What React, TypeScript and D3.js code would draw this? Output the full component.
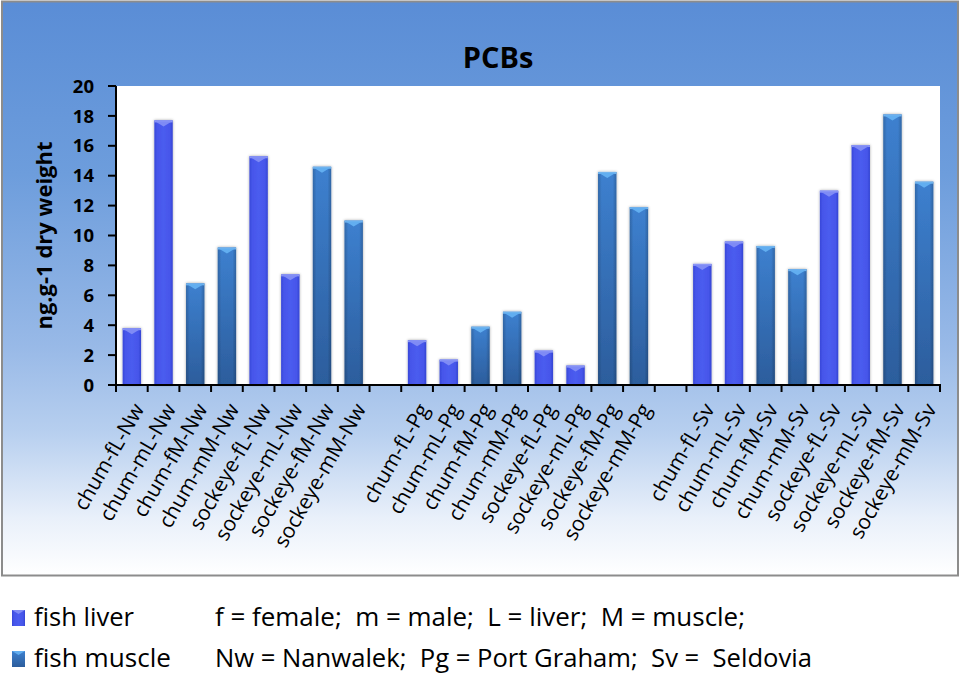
import React from "react";
import * as d3 from "d3";

const categories = [
  "chum-fL-Nw", "chum-mL-Nw", "chum-fM-Nw", "chum-mM-Nw",
  "sockeye-fL-Nw", "sockeye-mL-Nw", "sockeye-fM-Nw", "sockeye-mM-Nw",
  "",
  "chum-fL-Pg", "chum-mL-Pg", "chum-fM-Pg", "chum-mM-Pg",
  "sockeye-fL-Pg", "sockeye-mL-Pg", "sockeye-fM-Pg", "sockeye-mM-Pg",
  " ",
  "chum-fL-Sv", "chum-mL-Sv", "chum-fM-Sv", "chum-mM-Sv",
  "sockeye-fL-Sv", "sockeye-mL-Sv", "sockeye-fM-Sv", "sockeye-mM-Sv",
];
const values: (number | null)[] = [
  3.8, 17.7, 6.8, 9.2, 15.3, 7.4, 14.6, 11.0,
  null,
  3.0, 1.7, 3.9, 4.9, 2.3, 1.3, 14.25, 11.9,
  null,
  8.1, 9.6, 9.3, 7.75, 13.0, 16.05, 18.1, 13.6,
];
// series of each category: "liver" or "muscle"
const tissue = categories.map((c) => (c.includes("L-") ? "liver" : c.includes("M-") ? "muscle" : ""));
const yTicks = [0, 2, 4, 6, 8, 10, 12, 14, 16, 18, 20];
const seriesNames = ["fish liver", "fish muscle"];
const title = "PCBs";
const yTitle = "ng.g-1 dry weight";
const notes = [
  "f = female;  m = male;  L = liver;  M = muscle;",
  "Nw = Nanwalek;  Pg = Port Graham;  Sv =  Seldovia",
];

const W = 961;
const H = 678;
const left = 116;
const right = 940;
const top = 86;
const bottom = 385;

export default function App() {
  const x = d3
    .scaleBand<string>()
    .domain(categories)
    .range([left, right])
    .paddingInner(0.42)
    .paddingOuter(0.21);
  const y = d3.scaleLinear().domain([0, 20]).range([bottom, top]);
  const step = x.step();
  const bw = x.bandwidth();
  const slotEdges = d3.range(categories.length + 1).map((i) => left + i * step);

  const font = "'Open Sans', 'DejaVu Sans', sans-serif";
  const legendLen = [100, 137];
  const notesLen = [530, 597];
  const rowY = [626, 667];

  return (
    <svg
      width={W}
      height={H}
      style={{ position: "absolute", left: 0, top: 0, display: "block" }}
      fontFamily={font}
    >
      <defs>
        <linearGradient id="bg" x1="0" y1="0" x2="0" y2="1">
          <stop offset="0" stopColor="#5a8dd6" />
          <stop offset="0.3" stopColor="#6d9ddc" />
          <stop offset="0.6" stopColor="#98b9e7" />
          <stop offset="0.75" stopColor="#b7cfef" />
          <stop offset="0.9" stopColor="#e9f0fa" />
          <stop offset="1" stopColor="#ffffff" />
        </linearGradient>
        <linearGradient id="liver" x1="0" y1="0" x2="1" y2="0">
          <stop offset="0" stopColor="#3747d8" />
          <stop offset="0.15" stopColor="#4656ea" />
          <stop offset="0.5" stopColor="#4b5cef" />
          <stop offset="0.85" stopColor="#4656ea" />
          <stop offset="1" stopColor="#3444d2" />
        </linearGradient>
        <linearGradient id="muscleV" x1="0" y1="0" x2="0" y2="1">
          <stop offset="0" stopColor="#3d80cf" />
          <stop offset="1" stopColor="#2c5d9c" />
        </linearGradient>
        <linearGradient id="shadeH" x1="0" y1="0" x2="1" y2="0">
          <stop offset="0" stopColor="#000" stopOpacity="0.18" />
          <stop offset="0.2" stopColor="#000" stopOpacity="0" />
          <stop offset="0.8" stopColor="#000" stopOpacity="0" />
          <stop offset="1" stopColor="#000" stopOpacity="0.2" />
        </linearGradient>
        <filter id="sh" x="-30%" y="-10%" width="160%" height="120%">
          <feGaussianBlur in="SourceAlpha" stdDeviation="1.5" />
          <feOffset dx="0" dy="0" result="b" />
          <feComponentTransfer>
            <feFuncA type="linear" slope="0.35" />
          </feComponentTransfer>
          <feMerge>
            <feMergeNode />
            <feMergeNode in="SourceGraphic" />
          </feMerge>
        </filter>
      </defs>

      <rect x={0} y={0} width={W} height={H} fill="#fff" />
      <rect x={2} y={1.5} width={956} height={574} fill="url(#bg)" stroke="#8c8c8c" strokeWidth={2} />

      <text x={498} y={68} textAnchor="middle" fontSize={29} fontWeight="bold" fill="#000">
        {title}
      </text>

      <rect x={left} y={top} width={right - left} height={bottom - top} fill="#fff" />

      {categories.map((c, i) => {
        const v = values[i];
        if (v == null) return null;
        const x0 = x(c)!;
        const y0 = y(v);
        const h = bottom - y0;
        const isLiver = tissue[i] === "liver";
        const cap = 6;
        return (
          <g key={i} filter="url(#sh)">
            <rect x={x0} y={y0} width={bw} height={h} fill={isLiver ? "url(#liver)" : "url(#muscleV)"} />
            {!isLiver && <rect x={x0} y={y0} width={bw} height={h} fill="url(#shadeH)" />}
            <rect x={x0} y={y0} width={bw} height={2} fill={isLiver ? "#8c97f6" : "#72b4ee"} />
            <path
              d={`M${x0 + 1},${y0 + 1}L${x0 + bw - 1},${y0 + 1}L${x0 + bw / 2},${y0 + cap}Z`}
              fill={isLiver ? "#7f8bf5" : "#62aef0"}
            />
          </g>
        );
      })}

      {/* y axis */}
      <line x1={left} x2={left} y1={top} y2={bottom} stroke="#000" strokeWidth={2} />
      {yTicks.map((t) => (
        <g key={t}>
          <line x1={left - 8} x2={left} y1={y(t)} y2={y(t)} stroke="#000" strokeWidth={2} />
          <text x={94} y={y(t)} dy="0.36em" textAnchor="end" fontSize={18.5} fontWeight="bold" fill="#000">
            {t}
          </text>
        </g>
      ))}
      <text
        transform={`translate(52,${(top + bottom) / 2}) rotate(-90)`}
        textAnchor="middle"
        fontSize={22}
        fontWeight="bold"
        fill="#000"
      >
        {yTitle}
      </text>

      {/* x axis */}
      <line x1={left - 1} x2={right + 1} y1={bottom} y2={bottom} stroke="#000" strokeWidth={2} />
      {slotEdges.map((e, i) => (
        <line key={i} x1={e} x2={e} y1={bottom} y2={bottom + 7} stroke="#000" strokeWidth={2} />
      ))}
      {categories.map((c, i) => {
        if (!c.trim()) return null;
        const cx = x(c)! + bw / 2;
        return (
          <text
            key={i}
            transform={`translate(${cx + 13},${bottom + 24}) rotate(-60)`}
            textAnchor="end"
            fontSize={21}
            fill="#000"
          >
            {c}
          </text>
        );
      })}

      {/* legend */}
      {seriesNames.map((s, i) => (
        <g key={s}>
          <rect x={12} y={rowY[i] - 16} width={13} height={16} fill={i === 0 ? "url(#liver)" : "url(#muscleV)"} />
          <path
            d={`M12,${rowY[i] - 16}L25,${rowY[i] - 16}L18.5,${rowY[i] - 12}Z`}
            fill={i === 0 ? "#7f8bf5" : "#62aef0"}
          />
          <text
            x={34}
            y={rowY[i]}
            fontSize={26}
            fill="#000"
            textLength={legendLen[i]}
            lengthAdjust="spacingAndGlyphs"
          >
            {s}
          </text>
        </g>
      ))}
      {notes.map((n, i) => (
        <text
          key={i}
          x={215}
          y={rowY[i]}
          fontSize={26}
          fill="#000"
          style={{ whiteSpace: "pre" }}
          textLength={notesLen[i]}
          lengthAdjust="spacingAndGlyphs"
        >
          {n}
        </text>
      ))}
    </svg>
  );
}
